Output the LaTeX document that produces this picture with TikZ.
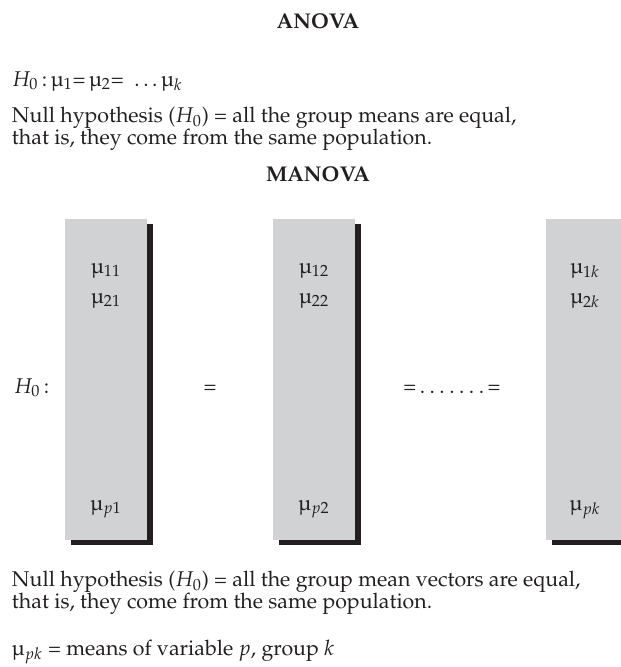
\documentclass[tikz,border=0pt]{standalone}
\usepackage[T1]{fontenc}
\usepackage{mathpazo}
\usepackage{textcomp}
\usetikzlibrary{shadows}
\definecolor{boxgray}{RGB}{209,210,212}
\definecolor{shadowc}{RGB}{35,31,32}
\definecolor{txt}{RGB}{35,31,32}
\newcommand{\mymu}{\textmu}
\begin{document}
\begin{tikzpicture}[x=0.6pt,y=-0.6pt,
  every node/.style={inner sep=0pt,outer sep=0pt,text=txt,font=\fontsize{12.8}{12.6}\selectfont},
  title/.style={font=\fontsize{12.8}{12.6}\selectfont\bfseries},
  lefttext/.style={anchor=base west},
  vecbox/.style={fill=boxgray,minimum width=49.2pt,minimum height=192.6pt,
    drop shadow={fill=shadowc,opacity=1,shadow xshift=3.3pt,shadow yshift=-3pt}},
  entry/.style={anchor=base}]
\useasboundingbox (0,0) rectangle (621,667);
\node[title,anchor=base] (anova) at (318,28) {ANOVA};
\node[lefttext] (h0a) at (12,86) {$H_0$\,:\,\mymu$_1$=\,\mymu$_2$=\ \ .\,.\,.\,\mymu$_k$};
\node[lefttext] (null1a) at (12,122.5) {Null hypothesis ($H_0$) = all the group means are equal,};
\node[lefttext] (null1b) at (12,144) {that is, they come from the same population.};
\node[title,anchor=base] (manova) at (318,181) {MANOVA};
\node[vecbox] (b1) at (106,379.5) {};
\node[vecbox] (b2) at (314,379.5) {};
\node[vecbox] (b3) at (587,379.5) {};
\node[entry] (m11) at (106,273) {\mymu$_{11}$};
\node[entry] (m21) at (106,303) {\mymu$_{21}$};
\node[entry] (mp1) at (106,510) {\mymu$_{p1}$};
\node[entry] (m12) at (314,273) {\mymu$_{12}$};
\node[entry] (m22) at (314,303) {\mymu$_{22}$};
\node[entry] (mp2) at (314,510) {\mymu$_{p2}$};
\node[entry] (m1k) at (585,273) {\mymu$_{1k}$};
\node[entry] (m2k) at (585,303) {\mymu$_{2k}$};
\node[entry] (mpk) at (585,510) {\mymu$_{pk}$};
\node[lefttext] (h0b) at (14,393) {$H_0$\,:};
\node[entry] (eq1) at (210,393) {=};
\node[entry] (eq2) at (452,393) {=\,.\kern2.7pt.\kern2.7pt.\kern2.7pt.\kern2.7pt.\kern2.7pt.\kern2.7pt.\,=};
\node[lefttext] (null2a) at (12,586.5) {Null hypothesis ($H_0$) = all the group mean vectors are equal,};
\node[lefttext] (null2b) at (12,608) {that is, they come from the same population.};
\node[lefttext] (def) at (12,655) {\mymu$_{pk}$ = means of variable $p$, group $k$};
\end{tikzpicture}
\end{document}
